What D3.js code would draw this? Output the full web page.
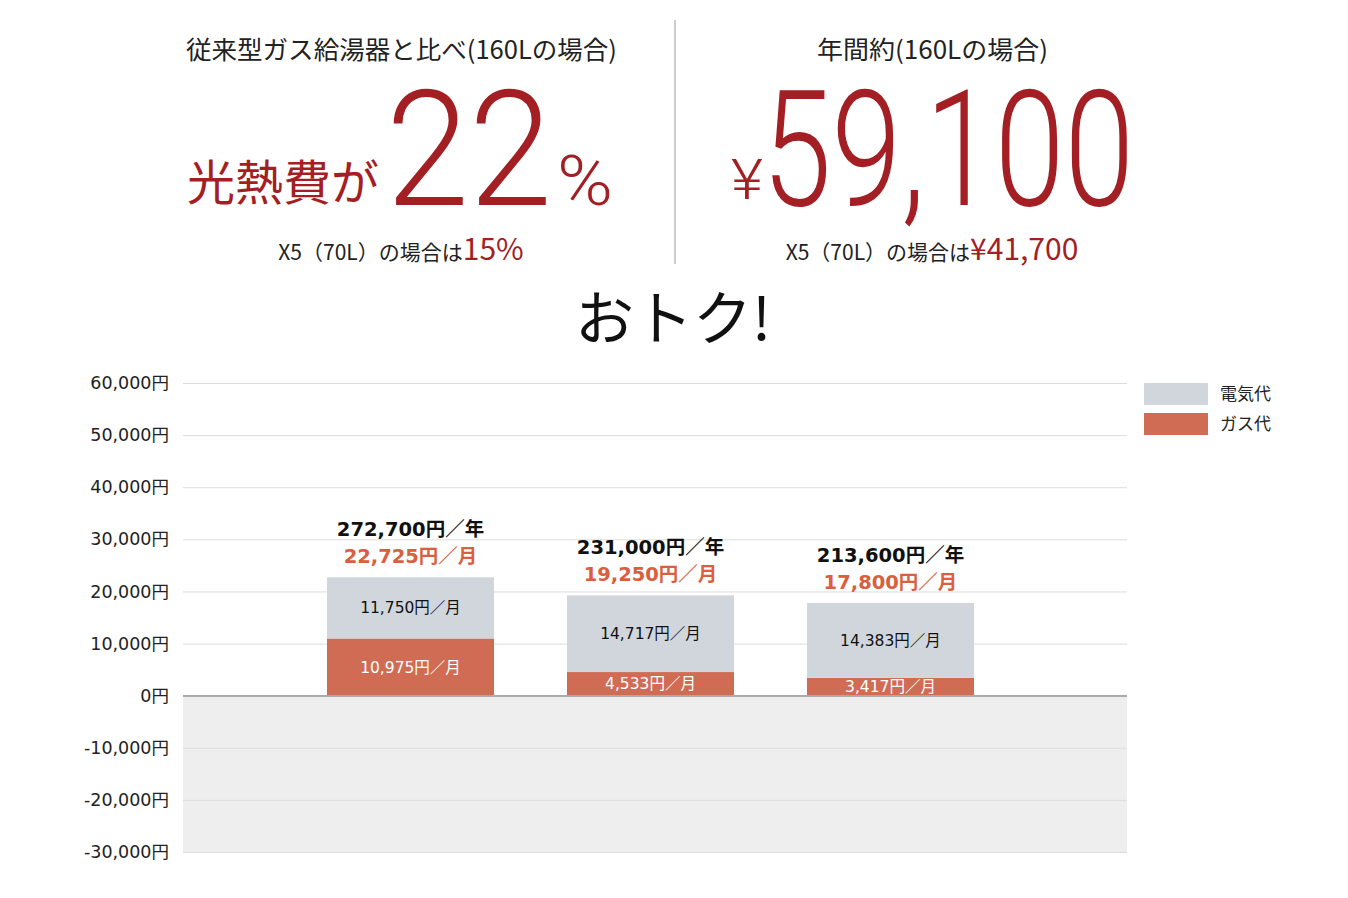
<!DOCTYPE html>
<html lang="ja">
<head>
    <meta charset="UTF-8">
    <title>光熱費比較</title>
    <script src="https://d3js.org/d3.v7.min.js"></script>
    <style>
        body { margin: 0; background: #fff; }
        svg text { font-family: "DejaVu Sans", "Noto Sans CJK JP", sans-serif; }
        .jp { font-family: "Noto Sans CJK JP", "Noto Sans", sans-serif !important; }
        .big { font-family: "Roboto", "Noto Sans", sans-serif !important; font-weight: 300; }
    </style>
</head>
<body>
<svg></svg>
<script>

    // chart data
    const categories = ["現在", "プランA", "プランB"];
    const gasValues = [10975, 4533, 3417];
    const elecValues = [11750, 14717, 14383];
    const monthlyTotals = [22725, 19250, 17800];
    const annualTotals = [272700, 231000, 213600];
    const yTicks = [-30000, -20000, -10000, 0, 10000, 20000, 30000, 40000, 50000, 60000];
    const seriesNames = ["電気代", "ガス代"];

    const width = 1348;
    const height = 898;
    const red = "#a31f24";
    const orange = "#d9603f";
    const gasColor = "#d06c54";
    const elecColor = "#d0d6dc";

    const fmt = v => d3.format(",")(v).replace("−", "-");

    const svg = d3.select("svg")
        .attr("width", width)
        .attr("height", height);

    // ---- header ----
    const head = svg.append("g");

    head.append("line")
        .attr("x1", 675).attr("x2", 675)
        .attr("y1", 20).attr("y2", 264)
        .style("stroke", "#999").style("stroke-width", 1);

    head.append("text").attr("class", "jp")
        .attr("x", 186).attr("y", 59)
        .attr("textLength", 431).attr("lengthAdjust", "spacingAndGlyphs")
        .style("font-size", "25px").style("fill", "#222")
        .text("従来型ガス給湯器と比べ(160Lの場合)");

    head.append("text").attr("class", "jp")
        .attr("x", 187).attr("y", 200)
        .style("font-size", "48px").style("fill", red)
        .text("光熱費が");

    head.append("text").attr("class", "big")
        .attr("x", 386).attr("y", 205)
        .attr("textLength", 166).attr("lengthAdjust", "spacingAndGlyphs")
        .style("font-size", "162px").style("fill", red)
        .text("22");

    head.append("text").attr("class", "big")
        .attr("x", 557).attr("y", 205)
        .attr("textLength", 56).attr("lengthAdjust", "spacingAndGlyphs")
        .style("font-size", "70px").style("fill", red)
        .text("%");

    const sub1 = head.append("text").attr("class", "jp")
        .attr("x", 401).attr("y", 260)
        .attr("text-anchor", "middle")
        .style("fill", "#222");
    sub1.append("tspan").style("font-size", "21px").text("X5（70L）の場合は");
    sub1.append("tspan").style("font-size", "30px").style("fill", red).text("15%");

    head.append("text").attr("class", "jp")
        .attr("x", 817).attr("y", 59)
        .attr("textLength", 231).attr("lengthAdjust", "spacingAndGlyphs")
        .style("font-size", "25px").style("fill", "#222")
        .text("年間約(160Lの場合)");

    head.append("text").attr("class", "big")
        .attr("x", 731).attr("y", 199)
        .attr("textLength", 32).attr("lengthAdjust", "spacingAndGlyphs")
        .style("font-size", "56px").style("fill", red)
        .text("¥");

    head.append("text").attr("class", "big")
        .attr("x", 762).attr("y", 205)
        .attr("textLength", 372).attr("lengthAdjust", "spacingAndGlyphs")
        .style("font-size", "162px").style("fill", red)
        .text("59,100");

    const sub2 = head.append("text").attr("class", "jp")
        .attr("x", 932).attr("y", 260)
        .attr("text-anchor", "middle")
        .style("fill", "#222");
    sub2.append("tspan").style("font-size", "21px").text("X5（70L）の場合は");
    sub2.append("tspan").style("font-size", "30px").style("fill", red).text("¥41,700");

    head.append("text").attr("class", "jp")
        .attr("x", 673).attr("y", 340)
        .attr("text-anchor", "middle")
        .style("font-size", "59px").style("fill", "#111")
        .text("おトク!");

    // ---- chart ----
    const plotLeft = 183, plotRight = 1127;

    const yScale = d3.scaleLinear()
        .domain([-30000, 60000])
        .range([852, 383]);

    const xScale = d3.scaleBand()
        .domain(categories)
        .range([207, 1094])
        .paddingInner(0.304)
        .paddingOuter(0.5);

    // shaded negative area
    svg.append("rect")
        .attr("x", plotLeft)
        .attr("y", yScale(0))
        .attr("width", plotRight - plotLeft)
        .attr("height", yScale(-30000) - yScale(0))
        .style("fill", "#eeeeee");

    // grid + labels
    const yAxis = d3.axisLeft(yScale)
        .tickValues(yTicks)
        .tickSize(-(plotRight - plotLeft))
        .tickPadding(14)
        .tickFormat(d => fmt(d) + "円");

    svg.append("g")
        .attr("transform", `translate(${plotLeft},0)`)
        .call(yAxis)
        .call(g => g.select(".domain").remove())
        .call(g => g.selectAll(".tick line")
            .style("stroke", d => d === 0 ? "#aaa" : "#ddd")
            .style("stroke-width", d => d === 0 ? 1.5 : 1))
        .call(g => g.selectAll(".tick text")
            .style("font-size", "17.5px")
            .style("fill", "#222")
            .style("font-family", "'DejaVu Sans', 'Noto Sans CJK JP', sans-serif"));

    const rows = categories.map((c, i) => ({
        name: c, gas: gasValues[i], elec: elecValues[i],
        month: monthlyTotals[i], year: annualTotals[i]
    }));

    // gas segments
    svg.selectAll(".gas")
        .data(rows)
        .join("rect")
        .attr("class", "gas")
        .attr("x", d => xScale(d.name))
        .attr("y", d => yScale(d.gas))
        .attr("width", xScale.bandwidth())
        .attr("height", d => yScale(0) - yScale(d.gas))
        .style("fill", gasColor);

    // electricity segments stacked on top
    svg.selectAll(".elec")
        .data(rows)
        .join("rect")
        .attr("class", "elec")
        .attr("x", d => xScale(d.name))
        .attr("y", d => yScale(d.gas + d.elec))
        .attr("width", xScale.bandwidth())
        .attr("height", d => yScale(d.gas) - yScale(d.gas + d.elec))
        .style("fill", elecColor);

    // redraw the zero line above bars
    svg.append("line")
        .attr("x1", plotLeft).attr("x2", plotRight)
        .attr("y1", yScale(0)).attr("y2", yScale(0))
        .style("stroke", "#aaa").style("stroke-width", 1.5);

    const cx = d => xScale(d.name) + xScale.bandwidth() / 2;

    svg.selectAll(".gasLabel")
        .data(rows)
        .join("text")
        .attr("class", "gasLabel")
        .attr("x", cx)
        .attr("y", d => (yScale(0) + yScale(d.gas)) / 2)
        .attr("dy", "0.36em")
        .attr("text-anchor", "middle")
        .style("font-size", "15.5px")
        .style("fill", "#fff")
        .text(d => fmt(d.gas) + "円／月");

    svg.selectAll(".elecLabel")
        .data(rows)
        .join("text")
        .attr("class", "elecLabel")
        .attr("x", cx)
        .attr("y", d => (yScale(d.gas) + yScale(d.gas + d.elec)) / 2)
        .attr("dy", "0.36em")
        .attr("text-anchor", "middle")
        .style("font-size", "15.5px")
        .style("fill", "#111")
        .text(d => fmt(d.elec) + "円／月");

    svg.selectAll(".monthLabel")
        .data(rows)
        .join("text")
        .attr("class", "monthLabel")
        .attr("x", cx)
        .attr("y", d => yScale(d.gas + d.elec) - 21)
        .attr("dy", "0.36em")
        .attr("text-anchor", "middle")
        .style("font-size", "19.5px")
        .style("font-weight", "bold")
        .style("fill", orange)
        .text(d => fmt(d.month) + "円／月");

    svg.selectAll(".yearLabel")
        .data(rows)
        .join("text")
        .attr("class", "yearLabel")
        .attr("x", cx)
        .attr("y", d => yScale(d.gas + d.elec) - 48)
        .attr("dy", "0.36em")
        .attr("text-anchor", "middle")
        .style("font-size", "19.5px")
        .style("font-weight", "bold")
        .style("fill", "#111")
        .text(d => fmt(d.year) + "円／年");

    // legend
    const legend = svg.selectAll(".legend")
        .data(seriesNames)
        .join("g")
        .attr("class", "legend")
        .attr("transform", (d, i) => `translate(1144, ${383 + i * 30})`);

    legend.append("rect")
        .attr("width", 64).attr("height", 22)
        .style("fill", (d, i) => i === 0 ? elecColor : gasColor);

    legend.append("text")
        .attr("class", "jp")
        .attr("x", 76).attr("y", 11)
        .attr("dy", "0.36em")
        .style("font-size", "17px")
        .style("fill", "#222")
        .text(d => d);

</script>
</body>
</html>
